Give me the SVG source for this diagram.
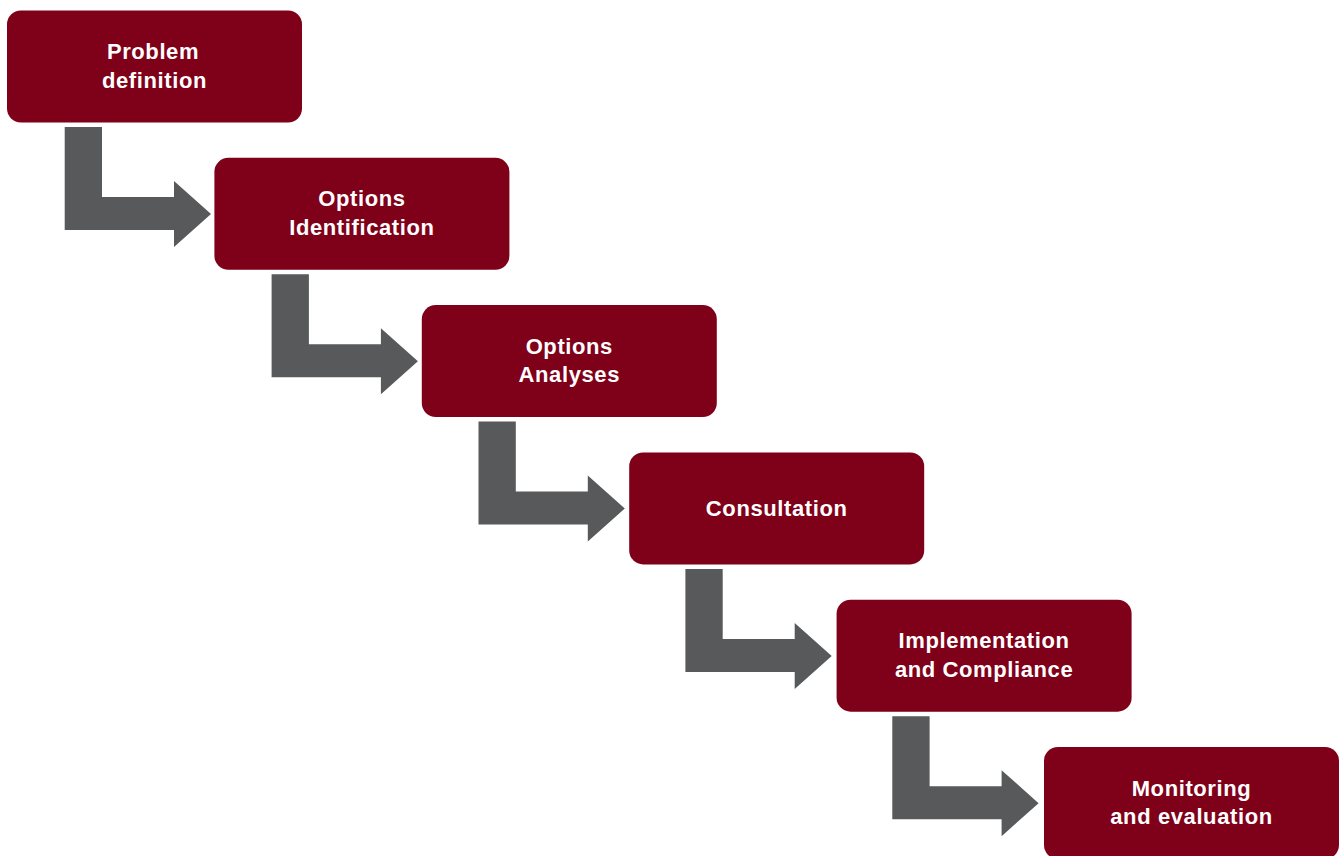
<svg xmlns="http://www.w3.org/2000/svg" width="1340" height="856" viewBox="0 0 1340 856">
<defs>
<style>
.box{fill:#7f0019}
.arr{fill:#58595b}
.t{fill:#fff;font-family:"Liberation Sans",Arial,sans-serif;font-weight:bold;font-size:22px;letter-spacing:0.6px;text-anchor:middle}
</style>
<rect id="boxshape" class="box" x="0" y="0" width="295" height="112" rx="14"/>
<path id="arrowshape" class="arr" d="M57.7,116.5 H95 V186.5 H167 V170.5 L204,203.5 L167,236.5 V219.5 H57.7 Z"/>
</defs>
<rect width="1340" height="856" fill="#fff"/>
<g id="connectors">
<use href="#arrowshape" transform="translate(7,10.5)"/>
<use href="#arrowshape" transform="translate(213.9,157.8)"/>
<use href="#arrowshape" transform="translate(420.8,305.1)"/>
<use href="#arrowshape" transform="translate(627.7,452.4)"/>
<use href="#arrowshape" transform="translate(834.6,599.7)"/>
</g>
<g id="n1" transform="translate(7,10.5)"><use href="#boxshape"/><text class="t" x="146" y="48.5">Problem</text><text class="t" x="147.5" y="77">definition</text></g>
<g id="n2" transform="translate(214.4,157.8)"><use href="#boxshape"/><text class="t" x="147.5" y="48.5">Options</text><text class="t" x="147.5" y="77">Identification</text></g>
<g id="n3" transform="translate(421.8,305.1)"><use href="#boxshape"/><text class="t" x="147.5" y="48.5">Options</text><text class="t" x="147.5" y="77">Analyses</text></g>
<g id="n4" transform="translate(629.2,452.4)"><use href="#boxshape"/><text class="t" x="147.5" y="64">Consultation</text></g>
<g id="n5" transform="translate(836.6,599.7)"><use href="#boxshape"/><text class="t" x="147.5" y="48.5">Implementation</text><text class="t" x="147.5" y="77">and Compliance</text></g>
<g id="n6" transform="translate(1044,747)"><use href="#boxshape"/><text class="t" x="147.5" y="48.5">Monitoring</text><text class="t" x="147.5" y="77">and evaluation</text></g>
</svg>
